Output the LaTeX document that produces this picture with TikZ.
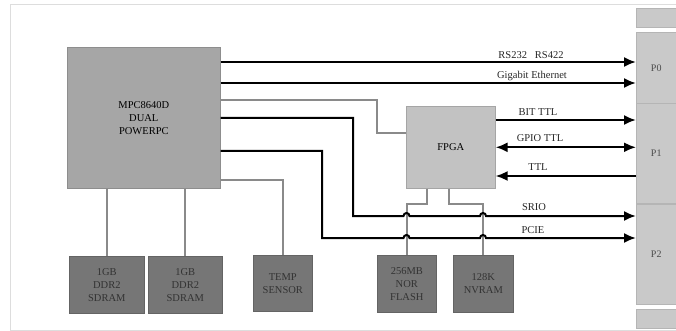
\documentclass[tikz,border=0pt]{standalone}
\usepackage{fontspec}
\setmainfont{Liberation Serif}
\usetikzlibrary{arrows.meta,calc}
\definecolor{mpcfill}{HTML}{A6A6A6}
\definecolor{fpgafill}{HTML}{C2C2C2}
\definecolor{darkfill}{HTML}{767676}
\definecolor{connfill}{HTML}{C9C9C9}
\definecolor{grayline}{HTML}{8A8A8A}
\definecolor{framecol}{HTML}{DDDDDD}
\begin{document}
\begin{tikzpicture}[x=1pt,y=-1pt,
  box/.style={draw=#1!85!black, fill=#1, line width=0.6pt, anchor=north west, inner sep=0pt, align=center, font=\fontsize{10.5}{12.8}\selectfont},
  conn/.style={draw=#1!90!black, fill=#1, line width=0.5pt, anchor=north west, inner sep=0pt, minimum width=40pt, font=\fontsize{10}{11}\selectfont, text=black!70},
  bl/.style={line width=2pt, black},
  arr/.style={bl, -{Latex[length=12pt,width=10pt]}},
  darr/.style={bl, {Latex[length=12pt,width=10pt]}-{Latex[length=12pt,width=10pt]}},
  gl/.style={line width=2pt, grayline},
  lbl/.style={font=\fontsize{10.5}{12}\selectfont, inner sep=0pt, text=black!85}]
\useasboundingbox (0,0) rectangle (676,331);
% frame
\draw[framecol, line width=1pt] (676,5) -- (10,5) -- (10,330) -- (676,330);
% main nodes
\node[box=mpcfill, minimum width=153pt, minimum height=141pt] (mpc) at (67,47) {MPC8640D\\DUAL\\POWERPC};
\node[box=fpgafill, minimum width=89pt, minimum height=82pt] (fpga) at (406,106) {FPGA};
\node[box=darkfill, minimum width=75pt, minimum height=57pt, text=black!80] (ddra) at (69,256) {1GB\\DDR2\\SDRAM};
\node[box=darkfill, minimum width=74pt, minimum height=57pt, text=black!80] (ddrb) at (148,256) {1GB\\DDR2\\SDRAM};
\node[box=darkfill, minimum width=59pt, minimum height=56pt, text=black!80] (temp) at (253,255) {TEMP\\SENSOR};
\node[box=darkfill, minimum width=59pt, minimum height=57pt, text=black!80] (nor) at (377,255) {256MB\\NOR\\FLASH};
\node[box=darkfill, minimum width=60pt, minimum height=57pt, text=black!80] (nvram) at (453,255) {128K\\NVRAM};
% connectors
\node[conn=connfill, minimum height=19pt] (ctop) at (636,8) {};
\node[conn=connfill, minimum height=71pt] (p0) at (636,32) {P0};
\node[conn=connfill, minimum height=100pt] (p1) at (636,103) {P1};
\node[conn=connfill, minimum height=100pt] (p2) at (636,204) {P2};
\node[conn=connfill, minimum height=19pt] (cbot) at (636,309) {};
% helper coordinates
\coordinate (yA) at (0,62);
\coordinate (yB) at (0,83);
\coordinate (yC) at (0,100);
\coordinate (yF) at (0,133);
\coordinate (yG) at (0,151);
\coordinate (yH) at (0,180);
\coordinate (yBit) at (0,120);
\coordinate (yTtl) at (0,176);
\coordinate (ySrio) at (0,216);
\coordinate (yPcie) at (0,238);
% MPC to P0
\draw[arr] (mpc.east |- yA) -- (p0.west |- yA);
\draw[arr] (mpc.east |- yB) -- (p0.west |- yB);
\node[lbl] (lrs) at (531,55) {RS232\enspace\ RS422};
\node[lbl] (lge) at (532,76) {Gigabit Ethernet};
% MPC to FPGA
\draw[gl] (mpc.east |- yC) -| (377,133) -- (fpga.west |- yF);
% FPGA to P1
\draw[arr] (fpga.east |- yBit) -- (p1.west |- yBit);
\draw[darr] (fpga.east) -- (p1.west |- fpga.east);
\draw[arr] (p1.west |- yTtl) -- (fpga.east |- yTtl);
\node[lbl] (lbit) at (538,112) {BIT TTL};
\node[lbl] (lgpio) at (540,138) {GPIO TTL};
\node[lbl] (lttl) at (538,167) {TTL};
% FPGA to memories (under the buses)
\draw[gl] ($(fpga.south)+(-24,0)$) -- ++(0,15) -| (nor.north);
\draw[gl] ($(fpga.south)+(-1.5,0)$) -- ++(0,15) -| (nvram.north);
% SRIO and PCIE with hops
\draw[arr] (mpc.east) -| (353,216) -- (403.5,216) arc (180:360:3) -- (480,216) arc (180:360:3) -- (p2.west |- ySrio);
\draw[arr] (mpc.east |- yG) -| (322,238) -- (403.5,238) arc (180:360:3) -- (480,238) arc (180:360:3) -- (p2.west |- yPcie);
\node[lbl] (lsrio) at (534,207) {SRIO};
\node[lbl] (lpcie) at (533,230) {PCIE};
% MPC to DDR and temp
\draw[gl] (ddra.north |- mpc.south) -- (ddra.north);
\draw[gl] (ddrb.north |- mpc.south) -- (ddrb.north);
\draw[gl] (mpc.east |- yH) -| (temp.north);
\end{tikzpicture}
\end{document}
